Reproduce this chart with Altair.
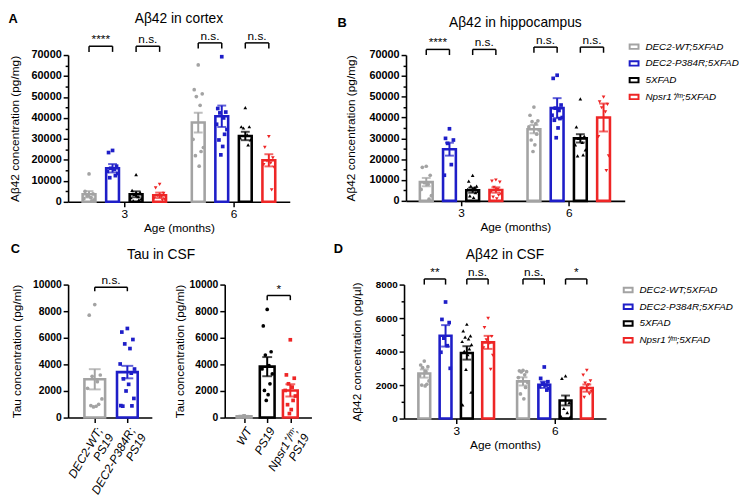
import json
import altair as alt
import pandas as pd

# ---------------- data ----------------
AGES = ["3", "6"]
GENOS = ["DEC2-WT;5XFAD", "DEC2-P384R;5XFAD", "5XFAD", "Npsr1⁺/ᵐ;5XFAD"]

# Panel A: Aβ42 in cortex (pg/mg)
A_MEAN_3 = [3600, 16000, 3600, 3100]
A_SEM_3 = [1500, 2000, 1400, 1300]
A_MEAN_6 = [37800, 40800, 31400, 19800]
A_SEM_6 = [4700, 5100, 2000, 2900]
A_PTS_3 = [
    [13300, 5000, 3800, 2800, 2000, 1500, 1000, 500],
    [24500, 23500, 17000, 16000, 15500, 14500, 13500, 12500, 11500],
    [13000, 5500, 4500, 3500, 2500, 2000, 1500, 1000, 500],
    [8300, 6700, 4000, 3000, 2500, 1800, 1200, 800],
]
A_PTS_6 = [
    [65300, 53500, 51500, 50200, 46000, 29800, 25900, 24000, 22000, 17000],
    [69200, 44500, 42800, 42400, 40000, 37000, 34500, 32200, 29500, 26400, 22400],
    [44900, 35800, 35800, 35200, 31900, 30500, 29500, 27200],
    [31100, 26000, 21000, 19500, 18500, 17700, 16500, 5700],
]
A_SIG = [(0, 0, 1, "****", 74200), (0, 2, 3, "n.s.", 74200),
         (1, 0, 1, "n.s.", 75800), (1, 2, 3, "n.s.", 75800)]

# Panel B: Aβ42 in hippocampus (pg/mg)
B_MEAN_3 = [9000, 24800, 5100, 5200]
B_SEM_3 = [2000, 3100, 1200, 1300]
B_MEAN_6 = [34400, 44500, 30000, 40000]
B_SEM_6 = [2000, 4800, 2000, 6700]
B_PTS_3 = [
    [16600, 16100, 12300, 8700, 8000, 5500, 2500, 800],
    [34600, 30000, 29200, 27600, 17400, 12300],
    [12200, 9500, 7100, 7100, 6300, 5500, 4500, 3900, 2400, 1600],
    [10000, 9500, 9000, 6500, 5500, 4000, 3200, 2700, 1800, 1000],
]
B_PTS_6 = [
    [45000, 41100, 38400, 38000, 37100, 35500, 34000, 32000, 29200, 26900, 23700],
    [60300, 58800, 46000, 44500, 43400, 41100, 40000, 39500, 38700, 35000, 30300],
    [49000, 35500, 31000, 30000, 28000, 26900, 24500, 22100, 21600],
    [49800, 47500, 46300, 44700, 42700, 30800, 21600, 14500],
]
B_SIG = [(0, 0, 1, "****", 72700), (0, 2, 3, "n.s.", 72700),
         (1, 0, 1, "n.s.", 73800), (1, 2, 3, "n.s.", 73800)]

# Panel C: Tau in CSF (pg/ml)
CL_GENOS = ["DEC2-WT;PS19", "DEC2-P384R;PS19"]
CL_LINES = [["DEC2-WT;", "PS19"], ["DEC2-P384R;", "PS19"]]
CL_MEAN = [2880, 3420]
CL_SEM = [760, 470]
CL_PTS = [
    [8500, 7700, 3200, 3100, 2700, 2200, 1400, 1000, 900, 850, 800],
    [6700, 6430, 5870, 5540, 5190, 4030, 3650, 3340, 2910, 2500, 2000, 1440, 900, 880, 860],
]
CL_SIG = [(0, 1, "n.s.", 9800)]

CR_GENOS = ["WT", "PS19", "Npsr1⁺/ᵐ;PS19"]
CR_LINES = [["WT"], ["PS19"], ["Npsr1⁺/ᵐ;", "PS19"]]
CR_MEAN = [100, 3830, 2040]
CR_SEM = [30, 720, 460]
CR_PTS = [
    [130, 70, 40],
    [8130, 6890, 4950, 4700, 3900, 3660, 3280, 2540, 2040, 1720, 1290],
    [5850, 3210, 2960, 2540, 2290, 2040, 1620, 1290, 970, 600, 300],
]
CR_SIG = [(1, 2, "*", 9180)]

# Panel D: Aβ42 in CSF (pg/µl)
D_MEAN_3 = [2690, 4940, 3920, 4550]
D_SEM_3 = [245, 640, 400, 390]
D_MEAN_6 = [2220, 2020, 1080, 1820]
D_SEM_6 = [245, 190, 295, 215]
D_PTS_3 = [
    [3430, 3200, 3100, 3050, 2800, 2550, 2250, 2050, 2000, 1950],
    [6960, 5920, 5730, 4800, 4350, 3960, 3000],
    [5630, 5240, 4940, 4860, 4760, 4600, 4410, 4160, 4020, 3820, 2940, 1570, 820],
    [5980, 5430, 4900, 4700, 4510, 4220, 3780, 2940],
]
D_PTS_6 = [
    [2880, 2850, 2800, 2780, 2610, 2450, 2160, 1860, 1470, 1180],
    [3080, 2400, 2200, 2100, 2000, 1900, 1800, 1700],
    [2550, 2400, 950, 600, 350, 150, 100],
    [2880, 2590, 2250, 2120, 2020, 1820, 1630, 1470, 1270],
]
D_SIG = [(0, 0, 1, "**", 8335), (0, 2, 3, "n.s.", 8335),
         (1, 0, 1, "n.s.", 8335), (1, 2, 3, "*", 8335)]

# ---------------- style ----------------
FONT = "Liberation Sans"
COLORS4 = ["#a3a3a3", "#1e1ec8", "#000000", "#ee2626"]
SHAPES4 = ["circle", "square", "triangle-up", "triangle-down"]
CL_COLORS = ["#a3a3a3", "#1e1ec8"]
CL_SHAPES = ["circle", "square"]
CR_COLORS = ["#a3a3a3", "#000000", "#ee2626"]
CR_SHAPES = ["square", "circle", "square"]
GSTEP = 4.64
JIT = [0.0, -0.17, 0.17, -0.08, 0.08, -0.22, 0.22, 0.12, -0.12, 0.04,
       -0.04, 0.2, -0.2, 0.14, -0.14]


def grouped_tables(means, sems, pts):
    bars, points = [], []
    for ai, age in enumerate(AGES):
        for gi, g in enumerate(GENOS):
            pos = ai * GSTEP + gi
            m, s = means[ai][gi], sems[ai][gi]
            bars.append(dict(geno=g, pos=pos, mean=m, lo=m - s, hi=m + s))
            for k, v in enumerate(pts[ai][gi]):
                points.append(dict(geno=g, pos=pos + JIT[k % len(JIT)], value=v))
    return pd.DataFrame(bars), pd.DataFrame(points)


def simple_tables(genos, means, sems, pts):
    bars, points = [], []
    for gi, g in enumerate(genos):
        m, s = means[gi], sems[gi]
        bars.append(dict(geno=g, pos=gi, mean=m, lo=m - s, hi=m + s))
        for k, v in enumerate(pts[gi]):
            points.append(dict(geno=g, pos=gi + JIT[k % len(JIT)], value=v))
    return pd.DataFrame(bars), pd.DataFrame(points)


def bracket_tables(pairs, drop):
    segs, texts = [], []
    for a, b, lab, y in pairs:
        segs.append(dict(x1=a, x2=b, y1=y, y2=y))
        segs.append(dict(x1=a, x2=a, y1=y, y2=y - drop))
        segs.append(dict(x1=b, x2=b, y1=y, y2=y - drop))
        texts.append(dict(xm=(a + b) / 2, y=y, label=lab))
    return pd.DataFrame(segs), pd.DataFrame(texts)


def grouped_sig(sig):
    return [(ai * GSTEP + g1, ai * GSTEP + g2, lab, y) for ai, g1, g2, lab, y in sig]


def y_axis(title, top, major, minor, lsize, tpad):
    vals = list(range(0, top + 1, minor))
    return alt.Axis(
        title=title, values=vals, tickCount=len(vals) + 2, format="d",
        labelExpr=f"datum.value % {major} == 0 ? datum.label : ''",
        tickSize={"condition": {"test": f"datum.value % {major} != 0", "value": 3}, "value": 5},
        labelFontSize=lsize, labelFontWeight="bold", labelPadding=2, labelOverlap=False,
        titleFontSize=12, titlePadding=tpad, titleFontWeight="normal",
    )


def age_axis():
    thr = (1.5 + 1.5 + GSTEP) / 2
    return alt.Axis(
        title="Age (months)", values=[1.5, 1.5 + GSTEP], tickCount=4,
        labelExpr=f"datum.value < {thr} ? '{AGES[0]}' : '{AGES[1]}'",
        tickSize=5, labelFontSize=12, labelFontWeight="normal", labelPadding=2,
        labelFlush=False, titleFontSize=12, titlePadding=3, labelAngle=0,
        titleFontWeight="normal",
    )


def cat_axis(lines):
    return alt.Axis(
        title=None, values=list(range(len(lines))), tickCount=len(lines) + 2,
        labelExpr=json.dumps(lines, ensure_ascii=False) + "[round(datum.value)]",
        labelAngle=300, labelAlign="right", labelBaseline="top",
        labelFontStyle="italic", labelFontWeight="normal", labelFontSize=12,
        labelLineHeight=13, tickSize=5, labelPadding=3, labelOverlap=False,
        labelFlush=False,
    )


def panel(bars, points, segs, texts, genos, colors, shapes, xaxis, xdom, yaxis, ydom,
          width, height, bar_w, cap_w, title=None, legend=None):
    xs = alt.Scale(domain=xdom, nice=False, zero=False)
    ys = alt.Scale(domain=ydom, nice=False)
    cs = alt.Scale(domain=genos, range=colors)
    layers = [alt.Chart(bars).mark_bar(width=bar_w, fill="white", strokeWidth=2.6).encode(
        x=alt.X("pos:Q", scale=xs, axis=xaxis),
        y=alt.Y("mean:Q", scale=ys, axis=yaxis),
        stroke=alt.Stroke("geno:N", scale=cs, legend=legend),
    )]
    for g, col, shp in zip(genos, colors, shapes):
        sel = alt.datum.geno == g
        layers.append(alt.Chart(points).transform_filter(sel).mark_point(
            filled=True, size=14, opacity=1, color=col, shape=shp).encode(
            x="pos:Q", y="value:Q"))
        layers.append(alt.Chart(bars).transform_filter(sel).mark_rule(
            strokeWidth=2, color=col).encode(x="pos:Q", y="lo:Q", y2="hi:Q"))
        layers.append(alt.Chart(bars).transform_filter(sel).transform_fold(
            ["lo", "hi"], as_=["end", "yv"]).mark_tick(
            orient="horizontal", size=cap_w, thickness=2, color=col).encode(
            x="pos:Q", y="yv:Q"))
    layers.append(alt.Chart(segs).mark_rule(color="black", strokeWidth=1.5).encode(
        x="x1:Q", x2="x2:Q", y="y1:Q", y2="y2:Q"))
    layers.append(alt.Chart(texts).mark_text(
        fontSize=12, font=FONT, baseline="alphabetic", dy=-3, color="black").encode(
        x="xm:Q", y="y:Q", text="label:N"))
    ch = alt.layer(*layers).properties(width=width, height=height)
    if title is not None:
        ch = ch.properties(title=title)
    return ch


def ptitle(text, offset=4, dx=0, anchor="middle", frame="group"):
    return alt.Title(text, fontSize=14, fontWeight="normal", anchor=anchor,
                     frame=frame, offset=offset, dx=dx)


def letter(text, dx=0, dy=0):
    return alt.Title(text, fontSize=13, fontWeight="bold", anchor="start",
                     offset=0, dx=dx, dy=dy)


def legend(lx, ly):
    return alt.Legend(title=None, orient="none", legendX=lx, legendY=ly, padding=0,
                      symbolType="M-1,-0.5H1V0.5H-1Z", symbolSize=81,
                      symbolFillColor="white", symbolStrokeWidth=2,
                      labelFont=FONT, labelFontSize=10, labelFontStyle="italic",
                      labelFontWeight="normal",
                      labelColor="black", labelOffset=6, rowPadding=4)


RES = dict(stroke="independent")

# ---- Panel A
ab, ap = grouped_tables([A_MEAN_3, A_MEAN_6], [A_SEM_3, A_SEM_6], [A_PTS_3, A_PTS_6])
asg, atx = bracket_tables(grouped_sig(A_SIG), 2700)
chA = panel(ab, ap, asg, atx, GENOS, COLORS4, SHAPES4, age_axis(), [-0.68, 8.32],
            y_axis("Aβ42 concentration (pg/mg)", 70000, 10000, 5000, 11, 10), [0, 70000],
            225, 149, 13, 9, title=ptitle("Aβ42 in cortex"))

# ---- Panel B
bb, bp = grouped_tables([B_MEAN_3, B_MEAN_6], [B_SEM_3, B_SEM_6], [B_PTS_3, B_PTS_6])
bsg, btx = bracket_tables(grouped_sig(B_SIG), 2700)
chB = panel(bb, bp, bsg, btx, GENOS, COLORS4, SHAPES4, age_axis(), [-0.66, 8.34],
            y_axis("Aβ42 concentration (pg/mg)", 70000, 10000, 5000, 11, 12), [0, 70000],
            222, 148, 13, 9, title=ptitle("Aβ42 in hippocampus"), legend=legend(226, -14))

# ---- Panel C
clb, clp = simple_tables(CL_GENOS, CL_MEAN, CL_SEM, CL_PTS)
clsg, cltx = bracket_tables(CL_SIG, 300)
chCL = panel(clb, clp, clsg, cltx, CL_GENOS, CL_COLORS, CL_SHAPES, cat_axis(CL_LINES),
             [-0.667, 1.6], y_axis("Tau concentration (pg/ml)", 10000, 2000, 2000, 10.5, 9),
             [0, 10000], 85, 135, 21, 12)
crb, crp = simple_tables(CR_GENOS, CR_MEAN, CR_SEM, CR_PTS)
crsg, crtx = bracket_tables(CR_SIG, 350)
chCR = panel(crb, crp, crsg, crtx, CR_GENOS, CR_COLORS, CR_SHAPES, cat_axis(CR_LINES),
             [-0.623, 2.7], y_axis("Tau concentration (pg/ml)", 10000, 2000, 2000, 10.5, 3),
             [0, 10000], 88, 135, 15, 10)

# ---- Panel D
db, dp = grouped_tables([D_MEAN_3, D_MEAN_6], [D_SEM_3, D_SEM_6], [D_PTS_3, D_PTS_6])
dsg, dtx = bracket_tables(grouped_sig(D_SIG), 335)
chD = panel(db, dp, dsg, dtx, GENOS, COLORS4, SHAPES4, age_axis(), [-0.72, 8.31],
            y_axis("Aβ42 concentration (pg/µl)", 8000, 2000, 1000, 10, 12), [0, 8000],
            205, 136, 12, 9, title=ptitle("Aβ42 in CSF"), legend=legend(222, 0))

# ---------------- layout ----------------
wrapA = alt.hconcat(chA, title=letter("A", dy=14)).resolve_scale(**RES)
wrapB = alt.hconcat(chB, title=letter("B", dx=-7, dy=14)).resolve_scale(**RES)
row1 = alt.hconcat(wrapA, wrapB, spacing=48).resolve_scale(**RES)

c_inner = alt.hconcat(chCL, chCR, spacing=74, bounds="flush",
                      title=ptitle("Tau in CSF", offset=13, dx=118, anchor="start",
                                   frame="bounds")).resolve_scale(**RES)
wrapC = alt.hconcat(c_inner, title=letter("C", dy=8)).resolve_scale(**RES)
wrapD = alt.hconcat(chD, title=letter("D", dx=-17, dy=8)).resolve_scale(**RES)
row2 = alt.hconcat(wrapC, wrapD, spacing=22).resolve_scale(**RES)

chart = alt.vconcat(row1, row2, spacing=9).resolve_scale(**RES).properties(
    padding=0
).configure_view(stroke=None).configure_axis(
    domainColor="black", domainWidth=1.6, tickColor="black", tickWidth=1.5,
    labelColor="black", titleColor="black", grid=False,
    labelFont=FONT, titleFont=FONT, titleFontWeight="normal",
).configure_title(font=FONT, color="black")

chart.save("out.html", embed_options={"renderer": "svg", "actions": False})
